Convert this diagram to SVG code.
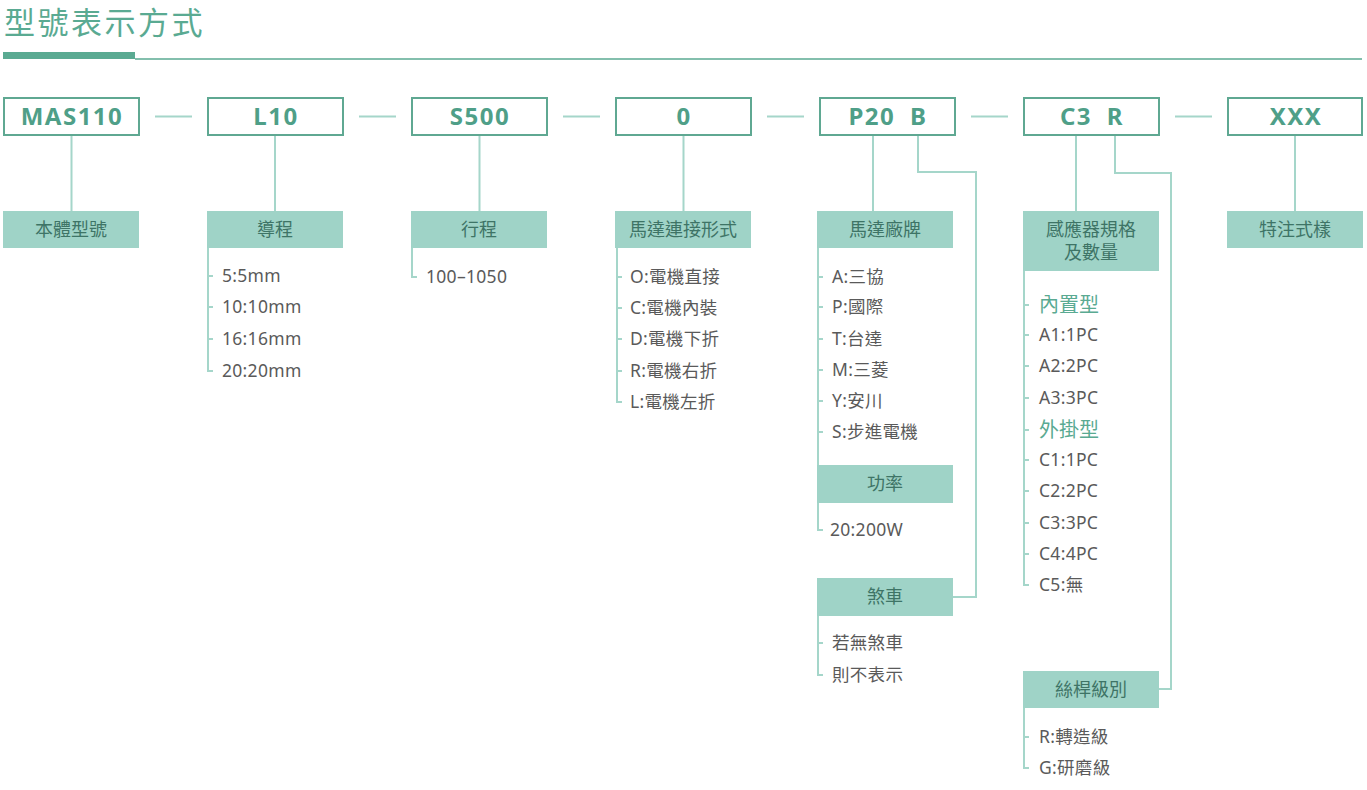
<svg xmlns="http://www.w3.org/2000/svg" width="1367" height="790" viewBox="0 0 1367 790">
<style>
.title{font-family:"Noto Sans CJK TC","Noto Sans",sans-serif;font-size:31px;fill:#5aaa92;letter-spacing:2.5px}
.code{fill:#fff;stroke:#5fa892;stroke-width:2}
.codet{font-family:"Noto Sans","Open Sans",sans-serif;font-weight:700;font-size:24px;fill:#4f9f88;text-anchor:middle;letter-spacing:1.5px}
.lab{fill:#9fd3c7}
.labt{font-family:"Noto Sans","Noto Sans CJK TC",sans-serif;font-size:18px;fill:#3e7466;text-anchor:middle}
.item{font-family:"Noto Sans","Noto Sans CJK TC",sans-serif;font-size:17.5px;fill:#5a5a5a;letter-spacing:0.3px}
.sub{font-family:"Noto Sans CJK TC","Noto Sans",sans-serif;font-size:20px;fill:#5aaa92}
.ln{fill:none;stroke:#a5d6ca;stroke-width:2}
</style>
<g id="title">
<text class="title" x="4" y="34">型號表示方式</text>
<rect x="3" y="52" width="132" height="7" fill="#5aaa92"/>
<line x1="135" y1="59" x2="1362" y2="59" stroke="#5aaa92" stroke-width="1.5"/>
</g>
<g id="connectors">
<path class="ln" d="M155,116.5H192M359,116.5H396M563,116.5H600M767,116.5H804M971,116.5H1008M1175,116.5H1212"/>
<path class="ln" d="M71.5,136V211M275,136V211M479.5,136V211M683.5,136V211M873,136V211M1076,136V211M1295,136V211"/>
<path class="ln" d="M918,136V172H976V597H953"/>
<path class="ln" d="M1115,136V173H1171V689H1159"/>
<path class="ln" d="M208,248V371H213M208,276h5M208,307h5M208,339h5"/>
<path class="ln" d="M412,248V277H417"/>
<path class="ln" d="M617,248V402H622M617,277h5M617,308h5M617,339h5M617,371h5"/>
<path class="ln" d="M818,248V465M818,277h5M818,307h5M818,339h5M818,370h5M818,401h5M818,432h5"/>
<path class="ln" d="M818,503V530H823"/>
<path class="ln" d="M818,616V675H823M818,643h5"/>
<path class="ln" d="M1024,271V585H1029M1024,305h5M1024,335h5M1024,366h5M1024,398h5M1024,430h5M1024,460h5M1024,491h5M1024,523h5M1024,554h5"/>
<path class="ln" d="M1024,708V768H1029M1024,737h5"/>
</g>
<g id="node-mas110">
<rect class="code" x="4" y="98" width="135" height="37"/>
<text class="codet" x="72" y="125">MAS110</text>
</g>
<g id="node-l10">
<rect class="code" x="208" y="98" width="135" height="37"/>
<text class="codet" x="276" y="125">L10</text>
</g>
<g id="node-s500">
<rect class="code" x="412" y="98" width="135" height="37"/>
<text class="codet" x="480" y="125">S500</text>
</g>
<g id="node-0">
<rect class="code" x="616" y="98" width="135" height="37"/>
<text class="codet" x="684" y="125">0</text>
</g>
<g id="node-p20b">
<rect class="code" x="820" y="98" width="135" height="37"/>
<text class="codet" x="888" y="125" word-spacing="7">P20 B</text>
</g>
<g id="node-c3r">
<rect class="code" x="1024" y="98" width="135" height="37"/>
<text class="codet" x="1092" y="125" word-spacing="7">C3 R</text>
</g>
<g id="node-xxx">
<rect class="code" x="1228" y="98" width="134" height="37"/>
<text class="codet" x="1296" y="125">XXX</text>
</g>
<g id="label-body">
<rect class="lab" x="3" y="211" width="136" height="37"/>
<text class="labt" x="71" y="236">本體型號</text>
</g>
<g id="label-lead">
<rect class="lab" x="207" y="211" width="136" height="37"/>
<text class="labt" x="275" y="236">導程</text>
<text class="item" x="222" y="282">5:5mm</text>
<text class="item" x="222" y="313">10:10mm</text>
<text class="item" x="222" y="345">16:16mm</text>
<text class="item" x="222" y="377">20:20mm</text>
</g>
<g id="label-stroke">
<rect class="lab" x="411" y="211" width="136" height="37"/>
<text class="labt" x="479" y="236">行程</text>
<text class="item" x="426" y="283">100–1050</text>
</g>
<g id="label-motor-conn">
<rect class="lab" x="615" y="211" width="136" height="37"/>
<text class="labt" x="683" y="236">馬達連接形式</text>
<text class="item" x="630" y="283">O:電機直接</text>
<text class="item" x="630" y="314">C:電機內裝</text>
<text class="item" x="630" y="345">D:電機下折</text>
<text class="item" x="630" y="377">R:電機右折</text>
<text class="item" x="630" y="408">L:電機左折</text>
</g>
<g id="label-motor-brand">
<rect class="lab" x="817" y="211" width="136" height="37"/>
<text class="labt" x="885" y="236">馬達廠牌</text>
<text class="item" x="832" y="283">A:三協</text>
<text class="item" x="832" y="313">P:國際</text>
<text class="item" x="832" y="345">T:台達</text>
<text class="item" x="832" y="376">M:三菱</text>
<text class="item" x="832" y="407">Y:安川</text>
<text class="item" x="832" y="438">S:步進電機</text>
</g>
<g id="label-power">
<rect class="lab" x="817" y="465" width="136" height="38"/>
<text class="labt" x="885" y="490">功率</text>
<text class="item" x="830" y="536">20:200W</text>
</g>
<g id="label-brake">
<rect class="lab" x="817" y="578" width="136" height="38"/>
<text class="labt" x="885" y="603">煞車</text>
<text class="item" x="832" y="649">若無煞車</text>
<text class="item" x="832" y="681">則不表示</text>
</g>
<g id="label-sensor">
<rect class="lab" x="1023" y="211" width="136" height="60"/>
<text class="labt" x="1091" y="236">感應器規格</text>
<text class="labt" x="1091" y="259">及數量</text>
<text class="sub" x="1039" y="312">內置型</text>
<text class="item" x="1039" y="341">A1:1PC</text>
<text class="item" x="1039" y="372">A2:2PC</text>
<text class="item" x="1039" y="404">A3:3PC</text>
<text class="sub" x="1039" y="437">外掛型</text>
<text class="item" x="1039" y="466">C1:1PC</text>
<text class="item" x="1039" y="497">C2:2PC</text>
<text class="item" x="1039" y="529">C3:3PC</text>
<text class="item" x="1039" y="560">C4:4PC</text>
<text class="item" x="1039" y="591">C5:無</text>
</g>
<g id="label-screw">
<rect class="lab" x="1023" y="671" width="136" height="37"/>
<text class="labt" x="1091" y="696">絲桿級別</text>
<text class="item" x="1039" y="743">R:轉造級</text>
<text class="item" x="1039" y="774">G:研磨級</text>
</g>
<g id="label-special">
<rect class="lab" x="1227" y="211" width="136" height="37"/>
<text class="labt" x="1295" y="236">特注式樣</text>
</g>
</svg>
